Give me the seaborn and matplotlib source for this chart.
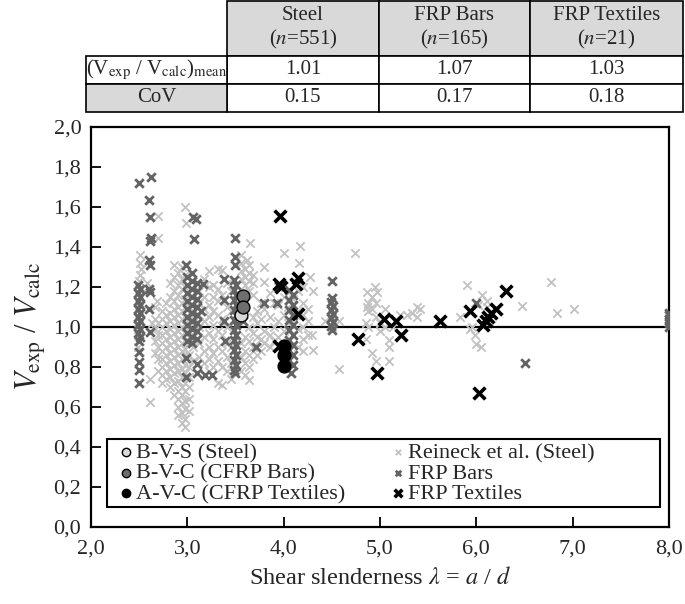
import pandas as pd
import matplotlib.pyplot as plt
from matplotlib.patches import Rectangle
import seaborn as sns

# table values
groups = ['Steel', 'FRP Bars', 'FRP Textiles']
group_n = [551, 165, 21]
ratio_mean = [1.01, 1.07, 1.03]
ratio_cov = [0.15, 0.17, 0.18]

# axis ticks
x_ticks = [2.0, 3.0, 4.0, 5.0, 6.0, 7.0, 8.0]
x_tick_labels = ['2,0', '3,0', '4,0', '5,0', '6,0', '7,0', '8,0']
y_ticks = [0.0, 0.2, 0.4, 0.6, 0.8, 1.0, 1.2, 1.4, 1.6, 1.8, 2.0]
y_tick_labels = ['0,0', '0,2', '0,4', '0,6', '0,8', '1,0', '1,2', '1,4', '1,6', '1,8', '2,0']

# Reineck et al. database (steel)
reineck_pts = [
    (2.51, 1.36), (2.51, 1.32), (2.52, 1.29), (2.51, 1.26), (2.50, 1.23), (2.50, 1.12), (2.50, 1.05),
    (2.49, 0.99), (2.49, 0.96), (2.49, 0.93), (2.49, 0.90), (2.49, 0.875),
    (2.61, 0.74), (2.61, 0.625), (2.55, 1.18), (2.58, 1.22), (2.63, 1.02),
    (2.66, 0.87), (2.66, 0.93), (2.66, 0.99), (2.66, 1.04), (2.66, 1.10),
    (2.70, 0.78), (2.70, 0.84), (2.70, 0.90), (2.70, 0.96), (2.70, 1.02), (2.68, 1.13), (2.70, 1.445), (2.70, 1.555),
    (2.74, 0.72), (2.74, 0.76), (2.74, 0.80), (2.74, 0.84), (2.74, 0.88), (2.74, 0.92), (2.74, 0.96), (2.74, 1.00), (2.74, 1.04), (2.74, 1.08),
    (2.78, 0.74), (2.78, 0.78), (2.78, 0.82), (2.78, 0.86), (2.78, 0.90), (2.78, 0.94), (2.78, 0.98), (2.78, 1.02), (2.78, 1.06), (2.78, 1.12),
    (2.82, 0.70), (2.82, 0.75), (2.82, 0.79), (2.82, 0.83), (2.82, 0.87), (2.82, 0.91), (2.82, 0.95), (2.82, 0.99), (2.82, 1.03), (2.82, 1.07), (2.82, 1.15), (2.82, 1.22),
    (2.86, 0.66), (2.86, 0.72), (2.86, 0.77), (2.86, 0.81), (2.86, 0.85), (2.86, 0.89), (2.86, 0.93), (2.86, 0.97), (2.86, 1.01), (2.86, 1.05), (2.86, 1.09), (2.86, 1.13), (2.86, 1.18), (2.86, 1.25), (2.86, 1.31),
    (2.90, 0.56), (2.90, 0.60), (2.90, 0.64), (2.90, 0.68), (2.90, 0.73), (2.90, 0.78), (2.90, 0.82), (2.90, 0.86), (2.90, 0.90), (2.90, 0.94), (2.90, 0.98), (2.90, 1.02), (2.90, 1.06), (2.90, 1.10), (2.90, 1.16), (2.90, 1.21), (2.90, 1.27),
    (2.94, 0.52), (2.94, 0.57), (2.94, 0.62), (2.94, 0.66), (2.94, 0.70), (2.94, 0.75), (2.94, 0.79), (2.94, 0.84), (2.94, 0.88), (2.94, 0.92), (2.94, 0.96), (2.94, 1.00), (2.94, 1.04), (2.94, 1.08), (2.94, 1.12), (2.94, 1.19), (2.94, 1.24), (2.94, 1.30),
    (2.98, 0.50), (2.98, 0.54), (2.98, 0.59), (2.98, 0.63), (2.98, 0.68), (2.98, 0.72), (2.98, 0.77), (2.98, 0.81), (2.98, 0.85), (2.98, 0.89), (2.98, 0.93), (2.98, 0.97), (2.98, 1.01), (2.98, 1.05), (2.98, 1.10), (2.98, 1.14), (2.98, 1.20), (2.98, 1.26), (2.99, 1.52), (2.98, 1.60),
    (3.02, 0.58), (3.02, 0.64), (3.02, 0.70), (3.02, 0.75), (3.02, 0.80), (3.02, 0.86), (3.02, 0.92), (3.02, 0.98), (3.02, 1.04), (3.02, 1.10),
    (3.06, 0.83), (3.06, 0.90), (3.06, 0.96), (3.06, 1.02), (3.06, 1.08),
    (3.12, 0.85), (3.12, 0.92), (3.12, 1.00), (3.12, 1.06), (3.12, 1.12), (3.12, 1.18),
    (3.17, 0.82), (3.17, 0.88), (3.17, 0.95), (3.17, 1.03), (3.17, 1.09), (3.17, 1.15), (3.17, 1.24),
    (3.22, 0.78), (3.22, 0.84), (3.22, 0.90), (3.22, 0.97), (3.22, 1.05), (3.22, 1.11), (3.22, 1.20), (3.22, 1.28),
    (3.27, 0.80), (3.27, 0.87), (3.27, 0.94), (3.27, 1.01), (3.27, 1.08), (3.27, 1.15), (3.27, 1.21),
    (3.32, 0.72), (3.32, 0.83), (3.32, 0.90), (3.32, 0.98), (3.32, 1.06), (3.32, 1.13), (3.32, 1.19), (3.32, 1.29),
    (3.36, 0.71), (3.36, 0.80), (3.36, 0.88), (3.36, 0.96), (3.36, 1.04), (3.36, 1.16), (3.36, 1.285),
    (3.41, 0.78), (3.41, 0.85), (3.41, 0.92), (3.41, 1.00), (3.41, 1.10), (3.41, 1.22),
    (3.45, 0.74), (3.45, 0.82), (3.45, 0.90), (3.45, 1.08), (3.45, 1.18),
    (3.56, 0.78), (3.56, 0.85), (3.56, 0.92), (3.56, 1.24), (3.56, 1.28), (3.56, 1.32), (3.56, 1.36),
    (3.60, 0.76), (3.60, 0.82), (3.60, 0.88), (3.60, 0.95), (3.60, 1.21), (3.60, 1.25), (3.60, 1.29), (3.62, 1.335),
    (3.64, 0.735), (3.64, 0.80), (3.64, 0.86), (3.64, 0.93), (3.64, 1.00), (3.64, 1.18), (3.64, 1.23), (3.64, 1.27), (3.64, 1.31), (3.65, 1.42),
    (3.68, 0.84), (3.68, 0.90), (3.68, 0.97), (3.68, 1.05), (3.68, 1.16), (3.68, 1.22), (3.68, 1.26),
    (3.72, 0.86), (3.72, 0.90), (3.72, 0.95), (3.72, 1.02), (3.72, 1.08),
    (3.76, 0.88), (3.76, 0.94), (3.76, 1.04), (3.76, 1.12),
    (3.80, 0.92), (3.80, 0.98), (3.80, 1.09), (3.80, 1.225), (3.80, 1.30),
    (3.86, 0.90), (3.86, 0.96), (3.86, 1.05), (3.86, 1.17),
    (3.90, 0.93), (3.90, 1.00), (3.90, 1.12),
    (3.94, 0.95), (3.94, 1.03), (3.94, 1.11), (3.94, 1.20),
    (4.00, 0.98), (4.00, 1.06), (4.00, 1.15), (4.00, 1.37),
    (4.05, 0.93), (4.05, 1.02), (4.05, 1.10),
    (4.10, 0.96), (4.10, 1.05), (4.10, 1.14),
    (4.15, 0.90), (4.15, 0.99), (4.15, 1.08), (4.15, 1.18), (4.16, 1.32), (4.17, 1.405),
    (4.20, 0.88), (4.20, 0.94), (4.20, 1.00), (4.20, 1.06), (4.20, 1.12), (4.20, 1.20),
    (4.25, 0.96), (4.25, 1.03), (4.25, 1.09), (4.27, 1.25),
    (4.30, 0.885), (4.29, 0.96), (4.30, 1.18),
    (4.43, 1.03), (4.50, 1.00), (4.50, 1.05), (4.57, 1.03), (4.57, 0.79),
    (4.74, 1.37),
    (4.85, 0.94), (4.85, 1.02), (4.86, 1.10), (4.86, 1.175),
    (4.88, 1.00), (4.88, 1.08), (4.88, 1.12),
    (4.92, 0.87), (4.92, 1.09), (4.92, 1.15), (4.95, 1.20),
    (4.96, 0.83), (4.96, 1.05), (4.96, 1.12), (4.97, 1.175),
    (5.00, 0.98), (5.00, 1.02), (5.05, 1.00), (5.05, 1.09),
    (5.09, 0.935), (5.09, 0.90), (5.09, 0.83), (5.14, 1.00),
    (5.21, 1.06), (5.28, 1.06), (5.33, 1.07), (5.38, 1.10), (5.38, 1.05), (5.42, 1.09),
    (5.83, 1.05), (5.90, 1.21), (5.93, 0.99), (5.95, 1.00), (5.99, 0.96), (6.00, 0.915),
    (6.02, 1.11), (6.06, 1.16), (6.11, 1.10), (6.11, 1.13), (6.05, 0.90),
    (6.47, 1.105), (6.77, 1.225), (6.84, 1.07), (7.01, 1.09),
    (8.00, 1.03), (8.00, 1.05),
]

# FRP bar tests
frp_bars_pts = [
    (2.50, 1.72), (2.49, 1.21), (2.51, 1.19), (2.49, 1.17), (2.51, 1.15), (2.49, 1.13), (2.51, 1.11),
    (2.49, 1.09), (2.51, 1.07), (2.49, 1.05), (2.51, 1.03), (2.49, 1.01), (2.51, 0.99), (2.49, 0.97),
    (2.51, 0.95), (2.50, 0.93), (2.50, 0.875), (2.50, 0.825), (2.50, 0.785), (2.50, 0.72),
    (2.62, 1.75), (2.60, 1.635), (2.61, 1.55), (2.62, 1.445), (2.61, 1.43), (2.60, 1.335), (2.61, 1.31),
    (2.60, 1.19), (2.61, 1.175), (2.60, 1.09), (2.61, 0.975),
    (3.00, 0.93), (3.00, 0.97), (3.00, 1.01), (3.00, 1.05), (3.00, 1.09), (3.00, 1.13), (3.00, 1.17), (3.00, 1.21), (3.00, 1.25),
    (3.05, 0.92), (3.05, 0.95), (3.05, 0.99), (3.05, 1.03), (3.05, 1.07), (3.05, 1.11), (3.05, 1.15), (3.05, 1.19), (3.05, 1.23), (3.05, 1.27),
    (3.10, 0.94), (3.10, 0.98), (3.10, 1.02), (3.10, 1.06), (3.10, 1.10), (3.10, 1.14), (3.10, 1.18), (3.10, 1.22),
    (2.99, 1.31), (3.06, 1.55), (3.09, 1.54), (3.07, 1.44), (2.99, 0.845), (2.99, 0.75), (3.10, 0.815),
    (3.10, 0.77), (3.18, 0.76), (3.26, 0.76), (3.16, 1.215), (3.14, 1.08),
    (3.38, 1.24), (3.38, 1.135), (3.38, 1.03), (3.39, 0.93),
    (3.49, 1.445), (3.49, 1.35), (3.49, 1.31),
    (3.48, 1.235), (3.51, 1.21), (3.48, 1.185), (3.51, 1.16), (3.48, 1.135), (3.51, 1.11), (3.48, 1.085),
    (3.51, 1.06), (3.48, 1.035), (3.51, 1.01), (3.48, 0.985), (3.51, 0.96), (3.48, 0.935), (3.51, 0.91),
    (3.48, 0.885), (3.51, 0.86), (3.48, 0.835), (3.51, 0.81), (3.48, 0.785), (3.50, 0.77),
    (3.58, 1.03), (3.71, 0.90), (3.80, 1.12), (3.93, 1.12),
    (4.06, 1.185), (4.10, 1.16), (4.06, 1.135), (4.10, 1.11), (4.06, 1.085), (4.10, 1.06), (4.06, 1.035),
    (4.10, 1.01), (4.06, 0.985), (4.10, 0.96), (4.06, 0.935), (4.10, 0.91), (4.06, 0.885), (4.10, 0.86),
    (4.06, 0.835), (4.10, 0.81), (4.08, 0.77),
    (4.50, 1.23), (4.50, 1.145), (4.49, 1.125), (4.51, 1.105), (4.49, 1.085), (4.51, 1.065), (4.49, 1.045),
    (4.51, 1.025), (4.49, 1.005), (4.50, 0.985),
    (6.00, 1.12), (6.51, 0.82),
    (8.00, 1.00), (8.00, 1.02), (8.00, 1.04), (8.00, 1.06), (8.00, 1.07),
]

# FRP textile tests
frp_textiles_pts = [
    (3.96, 1.555), (3.95, 1.215), (3.97, 1.20), (4.13, 1.215), (4.15, 1.245), (4.15, 1.065), (3.95, 0.905),
    (4.77, 0.94), (4.97, 0.77), (5.04, 1.04), (5.17, 1.03), (5.22, 0.96), (5.62, 1.03), (5.93, 1.08),
    (6.03, 0.67), (6.07, 1.01), (6.10, 1.03), (6.12, 1.05), (6.15, 1.07), (6.20, 1.09), (6.31, 1.18),
]

# own tests
bvs_x = [3.555]
bvs_y = [1.06]
bvc_x = [3.575, 3.575]
bvc_y = [1.155, 1.10]
avc_x = [4.00, 4.00, 4.00]
avc_y = [0.905, 0.86, 0.805]

reineck = pd.DataFrame(reineck_pts, columns=['lam', 'ratio'])
frp_bars = pd.DataFrame(frp_bars_pts, columns=['lam', 'ratio'])
frp_textiles = pd.DataFrame(frp_textiles_pts, columns=['lam', 'ratio'])

sns.set_style('ticks')
plt.rcParams['font.family'] = ['Liberation Serif', 'DejaVu Serif']
plt.rcParams['mathtext.fontset'] = 'stix'

fig = plt.figure(figsize=(6.85, 6.04), dpi=100)

# --- table on top (drawn in pixel coords) ---
tab = fig.add_axes([0, 0, 1, 1])
tab.set_xlim(0, 685)
tab.set_ylim(604, 0)
tab.axis('off')
col_edges = [86, 227, 379, 530, 683]
row_edges = [1, 56, 84, 112]
gray = '#d9d9d9'
fs_tab = 15

def cell(x0, x1, y0, y1, text, face):
    tab.add_patch(Rectangle((x0, y0), x1 - x0, y1 - y0, facecolor=face, edgecolor='black', lw=1.2))
    tab.text((x0 + x1) / 2, (y0 + y1) / 2, text, ha='center', va='center', fontsize=fs_tab, linespacing=1.2)

for i, g in enumerate(groups):
    cell(col_edges[i + 1], col_edges[i + 2], row_edges[0], row_edges[1], f'{g}\n($n$=' + f'{group_n[i]})', gray)
    cell(col_edges[i + 1], col_edges[i + 2], row_edges[1], row_edges[2], f'{ratio_mean[i]:.2f}', 'white')
    cell(col_edges[i + 1], col_edges[i + 2], row_edges[2], row_edges[3], f'{ratio_cov[i]:.2f}', 'white')
cell(col_edges[0], col_edges[1], row_edges[1], row_edges[2],
     r'(V$_{\mathrm{exp}}$ / V$_{\mathrm{calc}}$)$_{\mathrm{mean}}$', 'white')
cell(col_edges[0], col_edges[1], row_edges[2], row_edges[3], 'CoV', gray)

# --- scatter plot ---
ax = fig.add_axes([91 / 685, 1 - 527 / 604, 578 / 685, 400 / 604])
ax.axhline(1.0, color='black', lw=1.6, zorder=1)

sns.scatterplot(data=reineck, x='lam', y='ratio', ax=ax, marker='x', color='#c2c2c2',
                s=36, linewidth=1.3, label='Reineck et al. (Steel)', zorder=2)
sns.scatterplot(data=frp_bars, x='lam', y='ratio', ax=ax, marker='x', color='#636363',
                s=38, linewidth=2.0, label='FRP Bars', zorder=3)
sns.scatterplot(data=frp_textiles, x='lam', y='ratio', ax=ax, marker='x', color='black',
                s=72, linewidth=2.6, label='FRP Textiles', zorder=4)
sns.scatterplot(x=bvs_x, y=bvs_y, ax=ax, marker='o', color='#d9d9d9', edgecolor='black',
                s=85, linewidth=1.0, label='B-V-S (Steel)', zorder=5)
sns.scatterplot(x=bvc_x, y=bvc_y, ax=ax, marker='o', color='#6e6e6e', edgecolor='black',
                s=85, linewidth=1.0, label='B-V-C (CFRP Bars)', zorder=5)
sns.scatterplot(x=avc_x, y=avc_y, ax=ax, marker='o', color='black', edgecolor='black',
                s=85, linewidth=1.0, label='A-V-C (CFRP Textiles)', zorder=5)

ax.set_xlim(2, 8)
ax.set_ylim(0, 2)
ax.set_xticks(x_ticks)
ax.set_xticklabels(x_tick_labels)
ax.set_yticks(y_ticks)
ax.set_yticklabels(y_tick_labels)
ax.tick_params(direction='in', length=7, width=1.3, labelsize=16, color='black')
ax.tick_params(axis='x', pad=9)
ax.tick_params(axis='y', pad=7)
for sp in ax.spines.values():
    sp.set_linewidth(1.6)
    sp.set_color('black')
ax.set_xlabel(r'Shear slenderness $\lambda$ = $a$ / $d$', fontsize=17.5, labelpad=6)
ax.set_ylabel(r'$V_{\mathrm{exp}}$ / $V_{\mathrm{calc}}$', fontsize=22, labelpad=4)

# legend: white box with two single-column legends inside
ax.add_patch(Rectangle((0.028, 0.05), 0.957, 0.17, transform=ax.transAxes,
                       facecolor='white', edgecolor='black', lw=1.5, zorder=8))
handles, labels = ax.get_legend_handles_labels()
leg_kw = dict(loc='upper left', fontsize=16, markerscale=0.65, scatterpoints=1, frameon=False,
              handlelength=0.6, handletextpad=0.15, labelspacing=0.0, borderpad=0.2, borderaxespad=0)
leg1 = ax.legend(handles[3:], labels[3:], bbox_to_anchor=(0.042, 0.222), **leg_kw)
leg1.set_zorder(10)
ax.add_artist(leg1)
leg2 = ax.legend(handles[:3], labels[:3], bbox_to_anchor=(0.512, 0.222), **leg_kw)
leg2.set_zorder(10)

fig.savefig('out.png', dpi=100)
